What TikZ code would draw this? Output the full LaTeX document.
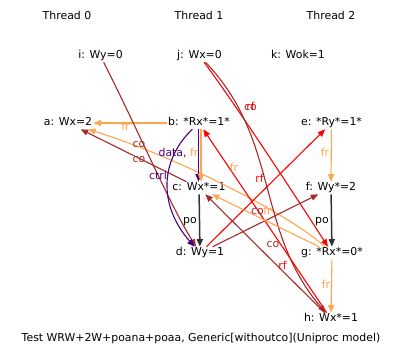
\documentclass[tikz,border=0pt]{standalone}
\usepackage{fontspec}
\setmainfont{DejaVu Sans}
\usetikzlibrary{arrows.meta}
\definecolor{frcol}{RGB}{255,165,79}
\definecolor{cocol}{RGB}{165,42,42}
\definecolor{rfcol}{RGB}{255,0,0}
\definecolor{depcol}{RGB}{75,0,130}
\definecolor{pocol}{RGB}{50,50,50}
\begin{document}
\begin{tikzpicture}[x=1bp,y=-1bp,
  font=\fontsize{10.9bp}{12bp}\selectfont,
  ev/.style={inner sep=1bp, text height=7.9bp, text depth=2.3bp},
  lab/.style={inner sep=0pt, text height=7.9bp, text depth=2.3bp},
  edgebase/.style={line width=1.1bp, -{Triangle[length=7.5bp,width=6bp]}},
  fredge/.style={edgebase, draw=frcol},
  coedge/.style={edgebase, draw=cocol},
  rfedge/.style={edgebase, draw=rfcol},
  depedge/.style={edgebase, draw=depcol},
  poedge/.style={edgebase, line width=1.5bp, draw=pocol},
  frlab/.style={lab, text=frcol},
  colab/.style={lab, text=cocol},
  rflab/.style={lab, text=rfcol},
  deplab/.style={lab, text=depcol},
  polab/.style={lab, text=black}]
\useasboundingbox (0,0) rectangle (403,361);
% thread titles
\node[ev] (t0) at (67,17) {Thread 0};
\node[ev] (t1) at (199,17) {Thread 1};
\node[ev] (t2) at (331,17) {Thread 2};
% events
\node[ev] (i) at (100.5,56) {i: Wy=0};
\node[ev] (j) at (199.5,56) {j: Wx=0};
\node[ev] (k) at (298,56) {k: Wok=1};
\node[ev] (a) at (68,123) {a: Wx=2};
\node[ev] (b) at (199,123) {b: *Rx*=1*};
\node[ev] (e) at (331.5,123) {e: *Ry*=1*};
\node[ev] (c) at (199,188) {c: Wx*=1};
\node[ev] (f) at (331,188) {f: Wy*=2};
\node[ev] (d) at (200,253) {d: Wy=1};
\node[ev] (g) at (332,253) {g: *Rx*=0*};
\node[ev] (h) at (331,319) {h: Wx*=1};
\node[ev] (cap) at (201,339) {Test WRW+2W+poana+poaa, Generic[withoutco](Uniproc model)};
% edges
\draw[fredge] (b) -- (a);
\draw[coedge] (c) -- (a);
\draw[fredge] (g) .. controls (290,215) and (180,158) .. (a);
\draw[coedge] (i) .. controls (138,130) and (170,205) .. (d);
\draw[depedge] (b) .. controls (160,160) and (158,205) .. (d);
\draw[depedge] ([xshift=-0.5bp]b.south) -- ([xshift=-0.5bp]c.north);
\draw[fredge] ([xshift=2bp]b.south) -- ([xshift=2bp]c.north);
\draw[poedge] (c) -- (d);
\draw[poedge] (f) -- (g);
\draw[fredge] (e) -- (f);
\draw[fredge] (g) -- (h);
\draw[rfedge] (j) .. controls (238,108) and (298,200) .. (g);
\draw[coedge] (j) .. controls (280,140) and (255,230) .. (h);
\draw[rfedge] (h) -- (b);
\draw[rfedge] (d) -- (e);
\draw[coedge] (d) -- (f);
\draw[coedge] (h) -- (c);
\draw[fredge] (g) -- (c);
% labels
\node[frlab] (l1) at (125.5,128) {fr};
\node[colab] (l2) at (139,145) {co};
\node[colab] (l3) at (139,160) {co};
\node[lab] (l4) at (178.5,154) {\textcolor{depcol}{data,} \textcolor{frcol}{fr}};
\node[deplab] (l5) at (158,177) {ctrl};
\node[polab] (l6) at (190,220.5) {po};
\node[frlab] (l7) at (234,169) {fr};
\node[rflab] (l8) at (259.5,180) {rf};
\node[colab] (l9) at (257.5,211.5) {co};
\node[frlab] (l10) at (267.5,211.5) {fr};
\node[colab] (l11) at (273,245) {co};
\node[rflab] (l12) at (282.5,267) {rf};
\node[polab] (l13) at (322,221) {po};
\node[frlab] (l14) at (325,154) {fr};
\node[frlab] (l15) at (326,286) {fr};
\node[colab] (l16) at (250.5,107.5) {co};
\node[rflab] (l17) at (250.5,107.5) {rf};
\end{tikzpicture}
\end{document}
